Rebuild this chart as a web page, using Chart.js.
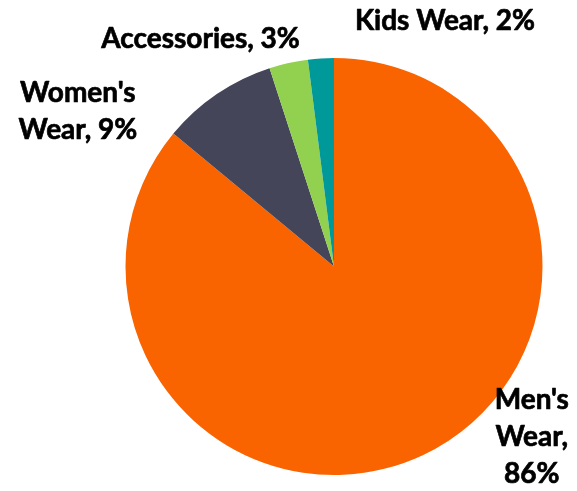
<!DOCTYPE html>
<html>
<head>
<meta charset="utf-8">
<script src="https://cdn.jsdelivr.net/npm/chart.js@4.4.1/dist/chart.umd.min.js"></script>
<style>
	html, body { margin: 0; padding: 0; background: #fff; }
	#wrap { width: 577px; height: 491px; position: relative; }
</style>
</head>
<body>
<div id="wrap"><canvas id="pie"></canvas></div>
<script>
// sales share by category
const categories = ["Men's Wear", "Women's Wear", "Accessories", "Kids Wear"];
const shares = [86, 9, 3, 2];
const colors = ["#FA6400", "#45455A", "#92D050", "#009999"];

// how each label is split into lines and nudged away from its slice
const labelLines = [
	["Men's", "Wear,", "86%"],
	["Women's", "Wear, 9%"],
	["Accessories, 3%"],
	["Kids Wear, 2%"]
];
const labelShift = [[109, -18], [-139, 17], [-88, -24], [124, -37]];

const outsideLabels = {
	id: "outsideLabels",
	afterDatasetsDraw(chart) {
		let ctx = chart.ctx;
		let meta = chart.getDatasetMeta(0);
		ctx.save();
		ctx.font = "bold 28px Lato, 'Open Sans', sans-serif";
		ctx.fillStyle = "#000";
		ctx.strokeStyle = "#000";
		ctx.lineWidth = 0.7;
		ctx.lineJoin = "round";
		ctx.textAlign = "center";
		ctx.textBaseline = "middle";
		let lineH = 37;
		meta.data.forEach(function(arc, i) {
			let p = arc.getProps(["x", "y", "startAngle", "endAngle", "outerRadius"], true);
			let mid = (p.startAngle + p.endAngle) / 2;
			let ax = p.x + Math.cos(mid) * p.outerRadius + labelShift[i][0];
			let ay = p.y + Math.sin(mid) * p.outerRadius + labelShift[i][1];
			let lines = labelLines[i];
			let top = ay - (lines.length - 1) * lineH / 2;
			lines.forEach(function(t, j) {
				ctx.fillText(t, ax, top + j * lineH);
				ctx.strokeText(t, ax, top + j * lineH);
			});
		});
		ctx.restore();
	}
};

new Chart(document.getElementById("pie"), {
	type: "pie",
	data: {
		labels: categories,
		datasets: [{
			data: shares,
			backgroundColor: colors,
			borderWidth: 0
		}]
	},
	options: {
		responsive: true,
		maintainAspectRatio: false,
		animation: false,
		layout: {
			padding: { left: 125, right: 34, top: 58, bottom: 16 }
		},
		plugins: {
			legend: { display: false },
			tooltip: { enabled: false }
		}
	},
	plugins: [outsideLabels]
});
</script>
</body>
</html>
